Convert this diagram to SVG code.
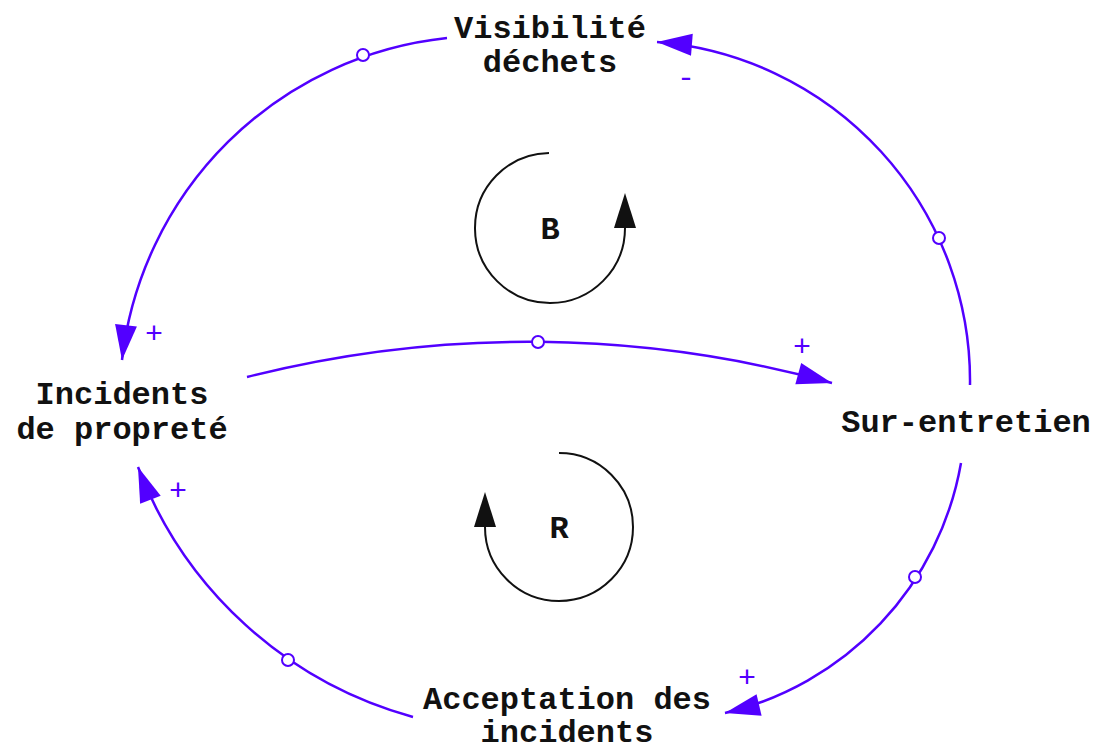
<svg xmlns="http://www.w3.org/2000/svg" width="1100" height="751" viewBox="0 0 1100 751">
<style>
.lbl{font-family:"Liberation Mono","Courier New",monospace;font-weight:bold;font-size:32px;fill:#111;text-anchor:middle}
.pol{font-family:"Liberation Mono","Courier New",monospace;font-size:30px;fill:#5200ff;text-anchor:middle}
.link{fill:none;stroke:#5200ff;stroke-width:2.5;marker-end:url(#arr)}
.dot{fill:#fff;stroke:#5200ff;stroke-width:2}
.loop{fill:none;stroke:#111;stroke-width:2}
</style>
<defs>
<marker id="arr" markerUnits="userSpaceOnUse" orient="auto" viewBox="-38 -15 42 30" refX="0" refY="0" markerWidth="42" markerHeight="30">
<path d="M0,0 L-35,-11 L-35,11 Z" fill="#5200ff"/>
</marker>
<marker id="larr" markerUnits="userSpaceOnUse" orient="auto" viewBox="-4 -15 42 30" refX="0" refY="0" markerWidth="42" markerHeight="30">
<path d="M35,0 L0,-11 L0,11 Z" fill="#111"/>
</marker>
</defs>
<g id="connectors">
<path class="link" d="M447 38 A366 366 0 0 0 122 360"/>
<path class="link" d="M970 385 A340 340 0 0 0 657 42"/>
<path class="link" d="M247 377 A1140 1140 0 0 1 832 383"/>
<path class="link" d="M961 463 A312 312 0 0 1 725 713"/>
<path class="link" d="M413 717 A410 410 0 0 1 138 467"/>
<circle class="dot" cx="363" cy="55" r="6"/>
<circle class="dot" cx="939" cy="238" r="6"/>
<circle class="dot" cx="538" cy="342" r="6"/>
<circle class="dot" cx="915" cy="577" r="6"/>
<circle class="dot" cx="288" cy="660" r="6"/>
<text class="pol" x="154" y="343">+</text>
<text class="pol" x="686" y="87">-</text>
<text class="pol" x="802" y="356">+</text>
<text class="pol" x="178" y="500">+</text>
<text class="pol" x="747" y="687">+</text>
</g>
<g id="node-visibilite">
<text class="lbl" x="550" y="38">Visibilité</text>
<text class="lbl" x="550" y="72">déchets</text>
</g>
<g id="node-incidents">
<text class="lbl" x="122" y="404">Incidents</text>
<text class="lbl" x="122" y="439">de propreté</text>
</g>
<g id="node-surentretien">
<text class="lbl" x="966" y="432">Sur-entretien</text>
</g>
<g id="node-acceptation">
<text class="lbl" x="567" y="709">Acceptation des</text>
<text class="lbl" x="567" y="742">incidents</text>
</g>
<g id="loop-B">
<path class="loop" d="M549 153 A75 75 0 1 0 625 228" marker-end="url(#larr)"/>
<text class="lbl" x="550" y="239">B</text>
</g>
<g id="loop-R">
<path class="loop" d="M559 453 A74 74 0 1 1 485 527" marker-end="url(#larr)"/>
<text class="lbl" x="559" y="538">R</text>
</g>
</svg>
